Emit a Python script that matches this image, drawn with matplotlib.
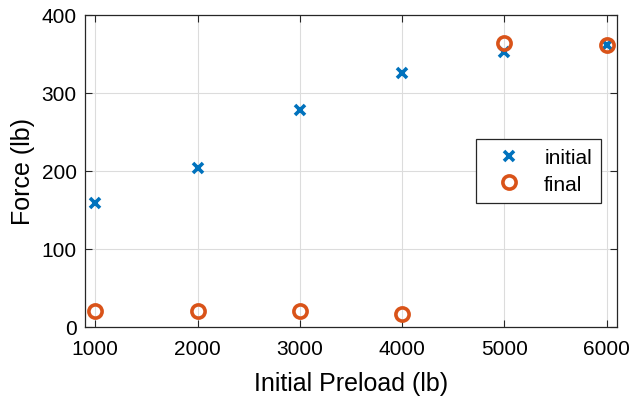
import numpy as np
import matplotlib.pyplot as plt

plt.rcParams['font.family'] = ['Liberation Sans', 'DejaVu Sans']

preload = [1000, 2000, 3000, 4000, 5000, 6000]
initial = [159, 204, 278, 326, 353, 362]
final = [21, 21, 21, 17, 364, 362]

fig = plt.figure(figsize=(6.32, 4.02), dpi=100)
ax = fig.add_axes([85/632, 1 - 328/402, 532/632, 312/402])

ax.plot(preload, initial, 'x', color='#0072BD', markersize=7, markeredgewidth=2.6,
        label='initial', zorder=3)
ax.plot(preload, final, 'o', color='#D95319', markerfacecolor='none', markersize=9.5,
        markeredgewidth=2.6, label='final', zorder=3)

ax.set_xlim(900, 6100)
ax.set_ylim(0, 400)
ax.set_xticks(preload)
ax.set_yticks([0, 100, 200, 300, 400])
ax.grid(True, color='#dcdcdc', linewidth=0.8)
ax.set_axisbelow(True)
ax.tick_params(direction='in', top=True, right=True, labelsize=15, length=5,
               width=0.8, color='#262626')
ax.tick_params(axis='x', pad=9)
ax.tick_params(axis='y', pad=6)
for s in ax.spines.values():
    s.set_color('#262626')
    s.set_linewidth(0.9)

ax.set_xlabel('Initial Preload (lb)', fontsize=18, labelpad=9)
ax.set_ylabel('Force (lb)', fontsize=18, labelpad=5)

leg = ax.legend(loc='center right', bbox_to_anchor=(0.99, 0.5), fontsize=15,
                fancybox=False, edgecolor='#262626', framealpha=1,
                handlelength=2.2, handletextpad=0.6, borderpad=0.45,
                labelspacing=0.35)
leg.get_frame().set_linewidth(0.9)

fig.savefig('out.png', dpi=100)
